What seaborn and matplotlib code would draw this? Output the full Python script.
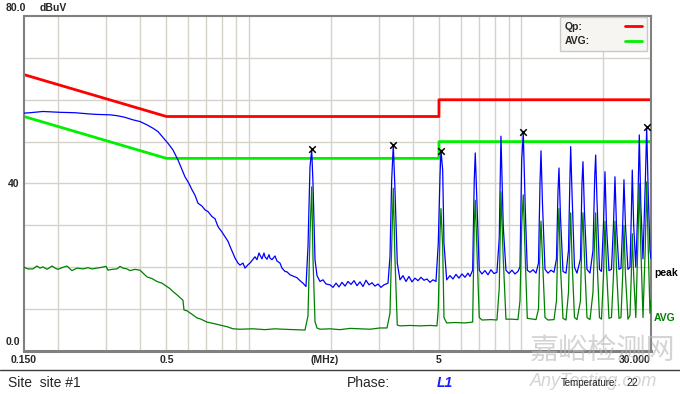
import matplotlib
matplotlib.use("Agg")
import matplotlib.pyplot as plt
import matplotlib.transforms as mtransforms
from matplotlib.lines import Line2D
import seaborn as sns

# --------------------------------------------
# Data
# --------------------------------------------
qp_mhz = [0.15, 0.5, 0.5, 5, 5, 30]
qp_dbuv = [66, 56, 56, 56, 60, 60]
avg_lim_mhz = [0.15, 0.5, 0.5, 5, 5, 30]
avg_lim_dbuv = [56, 46, 46, 46, 50, 50]

peak_mhz = [
    0.150, 0.1578, 0.1761, 0.2033, 0.2308, 0.2620, 0.2779, 0.3102, 0.3291, 0.3521,
    0.3768, 0.3997, 0.4241, 0.4461, 0.4653, 0.4854, 0.5064, 0.5283, 0.5512, 0.5846,
    0.6047, 0.6203, 0.6362, 0.6525, 0.6750, 0.6924, 0.7101, 0.7345, 0.7534, 0.7727,
    0.7993, 0.8198, 0.8409, 0.8552, 0.8773, 0.8922, 0.9150, 0.9306, 0.9545, 0.9707,
    0.9956, 1.0126, 1.0299, 1.0563, 1.0743, 1.0925, 1.1018, 1.1206, 1.1397, 1.1494,
    1.1690, 1.1889, 1.1990, 1.2194, 1.2507, 1.2720, 1.3047, 1.3269, 1.3610, 1.3842,
    1.4198, 1.4563, 1.5064, 1.5451, 1.5848, 1.6255, 1.6533, 1.6815, 1.7059, 1.7247,
    1.7540, 1.7840, 1.8298, 1.8768, 1.9250, 1.9912, 2.0424, 2.0947, 2.1486, 2.2037,
    2.2603, 2.3183, 2.3778, 2.4388, 2.5013, 2.5655, 2.6313, 2.6989, 2.7681, 2.8391,
    2.9119, 2.9866, 3.0633, 3.1419, 3.2499, 3.3053, 3.3531, 3.3987, 3.4479, 3.5155,
    3.5966, 3.6891, 3.7838, 3.8808, 3.9804, 4.0826, 4.1873, 4.2954, 4.4055, 4.5185,
    4.6344, 4.7533, 4.8752, 4.9709, 5.0429, 5.0857, 5.1593, 5.2163, 5.3366, 5.4875,
    5.6283, 5.7727, 5.9207, 6.0726, 6.2283, 6.3881, 6.4970, 6.6470, 6.7374, 6.7945,
    6.8754, 7.0281, 7.1904, 7.3752, 7.5645, 7.7586, 7.9576, 8.1617, 8.3221, 8.4425,
    8.6083, 8.8069, 9.0329, 9.2647, 9.5024, 9.7462, 9.9159, 10.059, 10.196, 10.370,
    10.547, 10.791, 11.068, 11.352, 11.594, 11.742, 11.842, 11.993, 12.249, 12.564,
    12.886, 13.216, 13.498, 13.670, 13.786, 13.962, 14.260, 14.627, 14.939, 15.129,
    15.219, 15.385, 15.714, 16.049, 16.531, 16.742, 16.884, 17.100, 17.465, 17.913,
    18.372, 18.654, 18.796, 19.003, 19.409, 19.740, 20.077, 20.333, 20.592, 21.031,
    21.480, 21.846, 22.125, 22.407, 22.885, 23.275, 23.612, 23.872, 24.177, 24.693,
    25.119, 25.396, 25.611, 25.916, 26.381, 26.831, 27.173, 27.519, 28.036, 28.586,
    28.926, 29.295, 29.745, 30.0,
]
peak_dbuv = [
    56.8, 56.9, 57.2, 57.0, 56.9, 56.6, 56.5, 56.4, 56.2, 55.8,
    55.2, 54.8, 54.0, 53.2, 52.4, 51.0, 49.6, 48.0, 45.6, 41.6,
    40.0, 38.5, 37.2, 35.3, 34.6, 33.7, 33.3, 32.1, 31.6, 29.7,
    28.4, 27.3, 26.2, 25.0, 23.3, 22.2, 21.0, 20.5, 21.0, 19.8,
    20.6, 21.0, 21.6, 22.5, 21.8, 23.4, 22.9, 22.0, 23.4, 22.5,
    21.9, 23.0, 22.2, 21.8, 22.7, 21.5, 21.0, 19.8, 19.0, 18.9,
    18.2, 17.9, 17.5, 16.8, 16.2, 15.4, 25.0, 44.0, 48.0, 40.0,
    21.8, 18.0, 16.6, 17.0, 16.0, 15.8, 15.2, 16.2, 15.3, 16.4,
    15.5, 16.6, 15.9, 16.8, 15.6, 16.5, 15.4, 16.9, 15.8, 16.3,
    15.5, 16.0, 15.2, 15.8, 16.2, 22.5, 40.8, 49.2, 38.5, 21.0,
    17.0, 18.0, 16.6, 17.8, 16.5, 17.4, 16.8, 17.6, 16.9, 17.2,
    16.4, 17.0, 16.6, 25.7, 41.6, 48.0, 43.2, 25.7, 17.0, 18.0,
    17.2, 18.3, 17.4, 18.4, 17.6, 18.6, 17.8, 19.3, 40.8, 47.3,
    37.7, 19.3, 18.4, 19.2, 18.2, 19.4, 18.5, 18.8, 27.0, 51.3,
    29.7, 19.3, 18.5, 19.3, 18.4, 19.0, 20.1, 45.6, 52.0, 33.7,
    19.3, 18.8, 19.4, 18.6, 21.0, 40.0, 47.8, 35.0, 19.5, 18.6,
    19.3, 18.8, 22.0, 38.0, 43.7, 32.0, 19.0, 18.6, 24.0, 42.0,
    48.8, 38.0, 20.0, 18.6, 22.0, 40.0, 45.2, 33.0, 19.5, 18.6,
    24.0, 42.0, 46.8, 36.0, 19.5, 19.0, 30.0, 42.8, 30.0, 19.2,
    19.5, 30.0, 41.6, 30.0, 19.5, 19.8, 30.0, 40.9, 30.0, 19.5,
    20.0, 32.0, 43.2, 30.0, 20.0, 34.0, 51.6, 35.0, 22.0, 40.0,
    53.3, 38.0, 24.0, 22.0,
]

avg_mhz = [
    0.150, 0.1551, 0.1618, 0.1674, 0.1717, 0.1761, 0.1822, 0.1901, 0.1950, 0.1999,
    0.2067, 0.2157, 0.2213, 0.2250, 0.2347, 0.2469, 0.2576, 0.2664, 0.2779, 0.2901,
    0.3000, 0.3050, 0.3155, 0.3291, 0.3376, 0.3463, 0.3582, 0.3674, 0.3832, 0.3997,
    0.4100, 0.4241, 0.4423, 0.4614, 0.4813, 0.5021, 0.5150, 0.5283, 0.5512, 0.5748,
    0.5797, 0.5946, 0.6099, 0.6255, 0.6470, 0.6692, 0.7041, 0.7407, 0.7859, 0.8338,
    0.8773, 0.9306, 1.0386, 1.1494, 1.2507, 1.3382, 1.4812, 1.6118, 1.6533, 1.6815,
    1.7059, 1.7247, 1.7540, 1.7840, 1.8298, 1.9912, 2.1668, 2.3578, 2.5655, 2.7915,
    3.0374, 3.2225, 3.3053, 3.3531, 3.3987, 3.4479, 3.5155, 3.5966, 3.9137, 4.2589,
    4.6344, 4.9165, 4.9709, 5.0429, 5.0857, 5.1593, 5.2163, 5.3366, 5.7241, 6.2283,
    6.6470, 6.7374, 6.7945, 6.8754, 7.0281, 7.1904, 7.7586, 8.1617, 8.3221, 8.4425,
    8.6083, 8.8069, 9.2647, 9.7462, 9.9159, 10.059, 10.196, 10.370, 10.547, 11.068,
    11.352, 11.594, 11.742, 11.842, 11.993, 12.249, 12.564, 13.216, 13.498, 13.670,
    13.786, 13.962, 14.260, 14.627, 14.939, 15.129, 15.219, 15.385, 15.714, 16.049,
    16.531, 16.742, 16.884, 17.100, 17.465, 17.913, 18.372, 18.654, 18.796, 19.003,
    19.409, 19.740, 20.077, 20.333, 20.592, 21.031, 21.480, 21.846, 22.125, 22.407,
    22.885, 23.275, 23.612, 23.872, 24.177, 24.693, 25.119, 25.396, 25.611, 25.916,
    26.381, 26.831, 27.173, 27.519, 28.036, 28.586, 28.926, 29.295, 29.745, 30.0,
]
avg_dbuv = [
    20.0, 19.6, 19.6, 20.3, 19.8, 20.1, 19.5, 20.3, 19.8, 19.5,
    19.9, 20.3, 19.6, 19.2, 19.8, 19.6, 19.9, 19.6, 19.8, 20.0,
    20.2, 19.3, 19.5, 19.6, 20.2, 19.8, 19.6, 19.2, 19.5, 19.3,
    18.6, 17.7, 17.3, 16.6, 16.2, 15.4, 14.9, 14.2, 13.2, 12.1,
    9.8, 9.6, 9.1, 8.6, 7.9, 7.6, 6.9, 6.6, 6.2, 5.8,
    5.3, 5.2, 5.3, 5.1, 5.3, 5.2, 5.1, 5.0, 8.4, 28.0,
    39.2, 22.0, 7.0, 5.5, 5.2, 5.3, 5.1, 5.4, 5.3, 5.2,
    5.5, 5.5, 9.0, 25.0, 38.9, 22.0, 6.2, 6.0, 6.1, 6.0,
    6.1, 6.0, 10.0, 28.0, 34.0, 25.0, 8.0, 6.7, 6.8, 6.7,
    6.9, 30.0, 36.0, 26.0, 8.0, 7.4, 7.5, 7.4, 15.0, 38.0,
    22.0, 7.6, 7.6, 7.5, 12.0, 30.0, 37.3, 22.0, 7.8, 7.6,
    7.5, 10.0, 25.0, 31.0, 22.0, 8.0, 7.4, 7.5, 12.0, 28.0,
    34.0, 20.0, 7.8, 7.4, 14.0, 28.0, 33.0, 22.0, 8.0, 7.5,
    12.0, 28.0, 33.0, 22.0, 8.0, 7.5, 14.0, 28.0, 33.0, 22.0,
    8.0, 7.6, 18.0, 31.0, 20.0, 7.8, 8.0, 18.0, 31.0, 20.0,
    7.8, 8.0, 18.0, 30.0, 18.0, 7.6, 8.5, 18.0, 28.0, 18.0,
    8.0, 25.0, 40.0, 25.0, 8.0, 25.0, 40.4, 25.0, 9.0, 12.0,
]

marker_mhz = [1.706, 3.399, 5.086, 10.196, 28.926]
marker_dbuv = [48.3, 49.2, 47.8, 52.3, 53.6]

grid_mhz = [0.2, 0.3, 0.4, 0.5, 0.6, 0.7, 0.8, 0.9, 1, 2, 3, 4, 5, 6, 7, 8, 9, 10, 20]
grid_dbuv = [10, 20, 30, 40, 50, 60, 70]
xtick_mhz = [0.15, 0.5, 1.9, 5, 30]
xtick_labels = ["0.150", "0.5", "(MHz)", "5", "30.000"]

# --------------------------------------------
# Style
# --------------------------------------------
sns.set_style("white")
plt.rcParams['font.family'] = ['Liberation Sans', 'DejaVu Sans']

W, H = 680, 394
fig = plt.figure(figsize=(6.8, 3.94), dpi=100)
ax = fig.add_axes([24 / W, 1 - 351 / H, 627 / W, 335 / H])
ax.set_facecolor("white")

grid_col = "#d6d2ca"
for g in grid_mhz:
    ax.axvline(g, color=grid_col, lw=1, zorder=0)
for g in grid_dbuv:
    ax.axhline(g, color=grid_col, lw=1, zorder=0)

# limit lines
sns.lineplot(x=qp_mhz, y=qp_dbuv, ax=ax, color="#ff0000", lw=2, sort=False,
             estimator=None, zorder=2)
qp_line = ax.lines[-1]
sns.lineplot(x=avg_lim_mhz, y=avg_lim_dbuv, ax=ax, color="#00f000", lw=2, sort=False,
             estimator=None, zorder=2)
avg_line = ax.lines[-1]

# measured traces
sns.lineplot(x=peak_mhz, y=peak_dbuv, ax=ax, color="#0000ff", lw=0.9, sort=False,
             estimator=None, zorder=3)
sns.lineplot(x=avg_mhz, y=avg_dbuv, ax=ax, color="#008000", lw=0.9, sort=False,
             estimator=None, zorder=4)

sns.scatterplot(x=marker_mhz, y=marker_dbuv, ax=ax, marker="x", color="black",
                s=22, linewidth=1.1, zorder=5)

ax.set_xscale("log")
ax.set_xlim(0.15, 30)
ax.set_ylim(0, 80)
ax.minorticks_off()

ax.set_xticks(xtick_mhz)
ax.set_xticklabels(xtick_labels, fontsize=7.5, fontweight="bold")
last = ax.xaxis.get_majorticklabels()[-1]
last.set_ha("right")
last.set_transform(last.get_transform() +
                   mtransforms.ScaledTranslation(0.04, 0, fig.dpi_scale_trans))
ax.set_yticks([0, 40])
ax.set_yticklabels(["0.0", "40"], fontsize=7.5, fontweight="bold")
ax.tick_params(axis="both", length=0)
ax.tick_params(axis="x", pad=3)
ax.tick_params(axis="y", pad=3)
lab0 = ax.yaxis.get_majorticklabels()[0]
lab0.set_transform(lab0.get_transform() +
                   mtransforms.ScaledTranslation(0, 0.10, fig.dpi_scale_trans))

for side, sp in ax.spines.items():
    sp.set_visible(True)
    sp.set_color("#808080")
    sp.set_linewidth(1.5)
ax.spines["bottom"].set_linewidth(2.2)

leg = ax.legend(handles=[qp_line, avg_line], labels=["Qp:", "AVG:"], loc="upper right",
                bbox_to_anchor=(0.9936, 0.997), borderaxespad=0, markerfirst=False,
                frameon=True, fancybox=False, edgecolor="#c8c8c8", facecolor="#f6f5f1",
                framealpha=1, prop={"size": 7.5, "weight": "bold"}, handlelength=1.7,
                handletextpad=3.3, borderpad=0.45, labelspacing=0.45)
# keep the two labels left-aligned like the original legend
qp_txt = leg.get_texts()[0]
qp_txt.set_transform(qp_txt.get_transform() +
                     mtransforms.ScaledTranslation(-0.08, 0, fig.dpi_scale_trans))

# trace labels at the right edge
tr = mtransforms.blended_transform_factory(ax.transAxes, ax.transData)
ax.text(1.005, 18.6, "peak", transform=tr, fontsize=7.5, fontweight="bold",
        color="black", va="center", ha="left", clip_on=False)
ax.text(1.005, 7.9, "AVG", transform=tr, fontsize=7.5, fontweight="bold",
        color="#008000", va="center", ha="left", clip_on=False)

# header
fig.text(6 / W, 1 - 8 / H, "80.0", fontsize=7.5, fontweight="bold", va="center")
fig.text(40 / W, 1 - 8 / H, "dBuV", fontsize=7.5, fontweight="bold", va="center")

# watermark
fig.text(530 / W, 1 - 352 / H, "嘉峪检测网", fontsize=21, color="#b8b8b8", alpha=0.6,
         va="center", family=["Noto Sans CJK SC", "DejaVu Sans"], zorder=0)
fig.text(530 / W, 1 - 382 / H, "AnyTesting.com", fontsize=13, color="#b8b8b8",
         alpha=0.6, style="italic", va="center", zorder=0)

# footer
fig.add_artist(Line2D([0, 1], [1 - 370 / H, 1 - 370 / H], color="#3c3c3c", lw=1))
fy = 1 - 383 / H
fig.text(8 / W, fy, "Site  site #1", fontsize=10, va="center")
fig.text(347 / W, fy, "Phase:", fontsize=10, va="center")
fig.text(437 / W, fy, "L1", fontsize=10, va="center", color="#1a1aff",
         fontweight="bold", style="italic")
fig.text(561 / W, fy, "Temperature:", fontsize=7, va="center")
fig.text(626 / W, fy, "22", fontsize=7.5, va="center")

fig.savefig("out.png", dpi=100, facecolor="white")
